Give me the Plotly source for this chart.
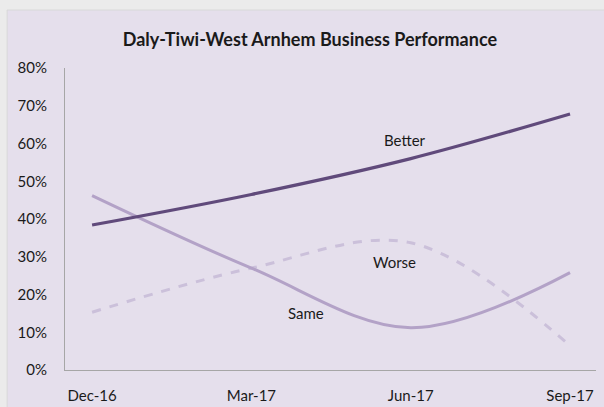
import plotly.graph_objects as go

quarters = ["Dec-16", "Mar-17", "Jun-17", "Sep-17"]
better = [0.384, 0.465, 0.560, 0.678]
same = [0.462, 0.270, 0.112, 0.258]
worse = [0.153, 0.270, 0.337, 0.064]

FONT = "Lato"

fig = go.Figure()
fig.add_trace(go.Scatter(x=quarters, y=worse, mode="lines", name="Worse",
                         line=dict(color="#cbc0da", width=3, dash="dash", shape="spline", smoothing=1)))
fig.add_trace(go.Scatter(x=quarters, y=same, mode="lines", name="Same",
                         line=dict(color="#b3a2c7", width=3, shape="spline", smoothing=1)))
fig.add_trace(go.Scatter(x=quarters, y=better, mode="lines", name="Better",
                         line=dict(color="#604a7b", width=3.2, shape="spline", smoothing=1)))

labels = [("Better", 1.965, 0.608), ("Worse", 1.90, 0.286), ("Same", 1.34, 0.151)]
for t, x, y in labels:
    fig.add_annotation(x=x, y=y, text=t, showarrow=False,
                       font=dict(family=FONT, size=15, color="#1a1a1a"))

fig.add_shape(type="rect", xref="paper", yref="paper",
              x0=-0.109, x1=1.03, y0=-0.2, y1=1.192,
              fillcolor="#e5dfec", line=dict(color="#d8d8d8", width=1), layer="below")

fig.update_layout(
    width=604, height=407,
    margin=dict(l=65, r=8, t=68, b=37, autoexpand=False),
    paper_bgcolor="#ebebeb", plot_bgcolor="rgba(0,0,0,0)",
    showlegend=False,
    title=dict(text="<b>Daly-Tiwi-West Arnhem Business Performance</b>",
               x=0.513, xanchor="center", y=0.902, yanchor="middle", yref="container",
               font=dict(family=FONT, size=18, color="#1a1a1a")),
    font=dict(family=FONT, size=15, color="#1a1a1a"),
)
fig.update_xaxes(type="category", range=[-0.17, 3.163], showgrid=False, zeroline=False,
                 showline=True, linecolor="#a6a6a6", linewidth=1, ticks="", automargin=False,
                 ticklabelstandoff=12, tickfont=dict(family=FONT, size=15))
fig.update_yaxes(range=[0, 0.8], dtick=0.1, tickformat=".0%", showgrid=False, zeroline=False,
                 showline=True, linecolor="#a6a6a6", linewidth=1, ticks="", automargin=False,
                 ticklabelstandoff=14, tickfont=dict(family=FONT, size=15))

fig.write_html("out.html", config={"displayModeBar": False},
               post_script="document.body.style.margin='0';document.body.style.background='#ebebeb';")
